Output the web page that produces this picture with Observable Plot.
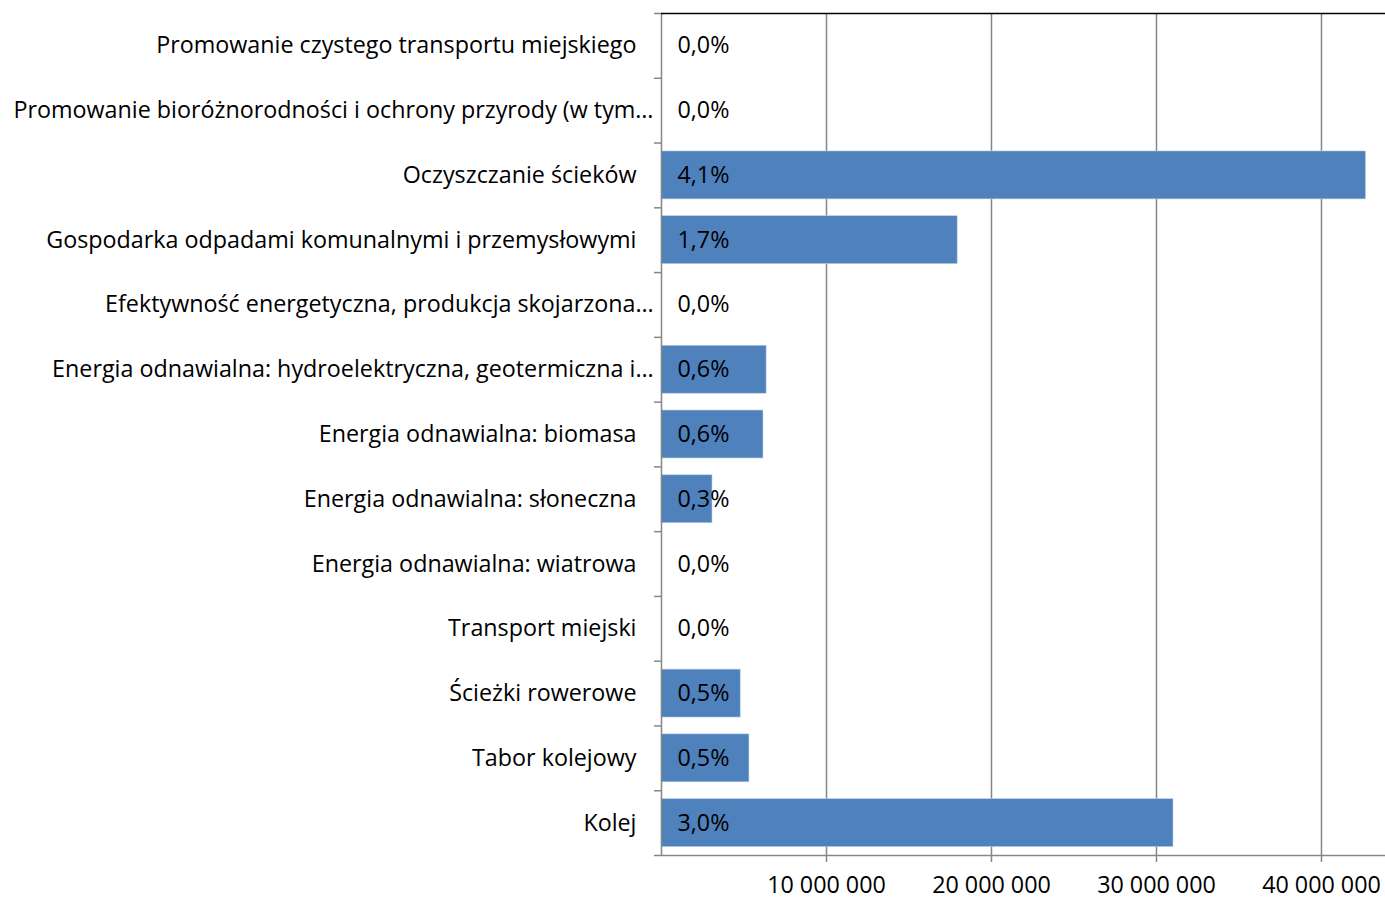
<!DOCTYPE html>
<html>
<head>
<meta charset="utf-8">
<script src="https://cdn.jsdelivr.net/npm/d3@7"></script>
<script src="https://cdn.jsdelivr.net/npm/@observablehq/plot@0.6"></script>
<style>
  html, body { margin: 0; padding: 0; background: #fff; }
  #chart svg { display: block; font-family: "Open Sans", Lato, sans-serif; }
</style>
</head>
<body>
<div id="chart"></div>
<script>
const categories = [
  "Promowanie czystego transportu miejskiego",
  "Promowanie bioróżnorodności i ochrony przyrody (w tym…",
  "Oczyszczanie ścieków",
  "Gospodarka odpadami komunalnymi i przemysłowymi",
  "Efektywność energetyczna, produkcja skojarzona…",
  "Energia odnawialna: hydroelektryczna, geotermiczna i…",
  "Energia odnawialna: biomasa",
  "Energia odnawialna: słoneczna",
  "Energia odnawialna: wiatrowa",
  "Transport miejski",
  "Ścieżki rowerowe",
  "Tabor kolejowy",
  "Kolej"
];
const values = [0, 0, 42700000, 17950000, 0, 6370000, 6180000, 3090000, 0, 0, 4800000, 5330000, 31030000];
const pctLabels = ["0,0%", "0,0%", "4,1%", "1,7%", "0,0%", "0,6%", "0,6%", "0,3%", "0,0%", "0,0%", "0,5%", "0,5%", "3,0%"];
const xTicks = [10000000, 20000000, 30000000, 40000000];
const xMax = 43880000;

const data = categories.map((c, i) => ({cat: c, value: values[i], pct: pctLabels[i]}));
const truncated = c => c.endsWith("…");

const W = 1385, H = 900;
const mL = 661, mT = 13, mB = 45, mR = 0;
const step = (H - mT - mB) / categories.length;
const pxToVal = xMax / (W - mL - mR);
const fmt = d => d3.format(",")(d).replace(/,/g, " ");
const FS = 23.3;
const FF = "'Open Sans', Lato, sans-serif";

const chart = Plot.plot({
  width: W,
  height: H,
  marginLeft: mL,
  marginRight: mR,
  marginTop: mT,
  marginBottom: mB,
  style: {fontSize: FS + "px", fontFamily: FF, color: "#000", background: "#fff"},
  x: {
    domain: [0, xMax],
    ticks: xTicks,
    tickFormat: fmt,
    tickSize: 7,
    tickPadding: 14,
    label: null
  },
  y: {
    domain: categories,
    axis: null,
    round: false,
    paddingInner: 0.26,
    paddingOuter: 0.13
  },
  marks: [
    Plot.ruleX(xTicks, {stroke: "#868686", strokeWidth: 1.5}),
    Plot.barX(data, {x: "value", y: "cat", fill: "#4F81BD", stroke: "#b9cde5", strokeWidth: 0.6}),
    Plot.ruleX([0], {stroke: "#868686", strokeWidth: 1.5}),
    Plot.ruleY([categories[categories.length - 1]], {dy: step / 2, stroke: "#868686", strokeWidth: 1.5}),
    Plot.ruleY([categories[0]], {dy: -step / 2, stroke: "#000", strokeWidth: 1.5}),
    Plot.ruleY(categories, {y: d => d, dy: -step / 2, x1: -7 * pxToVal, x2: 0, stroke: "#868686", strokeWidth: 1.5}),
    Plot.ruleY([categories[categories.length - 1]], {dy: step / 2, x1: -7 * pxToVal, x2: 0, stroke: "#868686", strokeWidth: 1.5}),
    Plot.text(data, {x: 0, y: "cat", text: "pct", dx: 16, textAnchor: "start", fill: "#000", fontSize: FS}),
    Plot.text(categories.filter(c => !truncated(c)), {x: 0, y: d => d, text: d => d, dx: -25, textAnchor: "end", fill: "#000", fontSize: FS}),
    Plot.text(categories.filter(truncated), {x: 0, y: d => d, text: d => d, dx: -8, textAnchor: "end", fill: "#000", fontSize: FS})
  ]
});
chart.querySelectorAll("[aria-label='x-axis tick'] path").forEach(p => { p.setAttribute("stroke", "#868686"); p.setAttribute("stroke-width", "1.5"); });
document.getElementById("chart").appendChild(chart);
</script>
</body>
</html>
